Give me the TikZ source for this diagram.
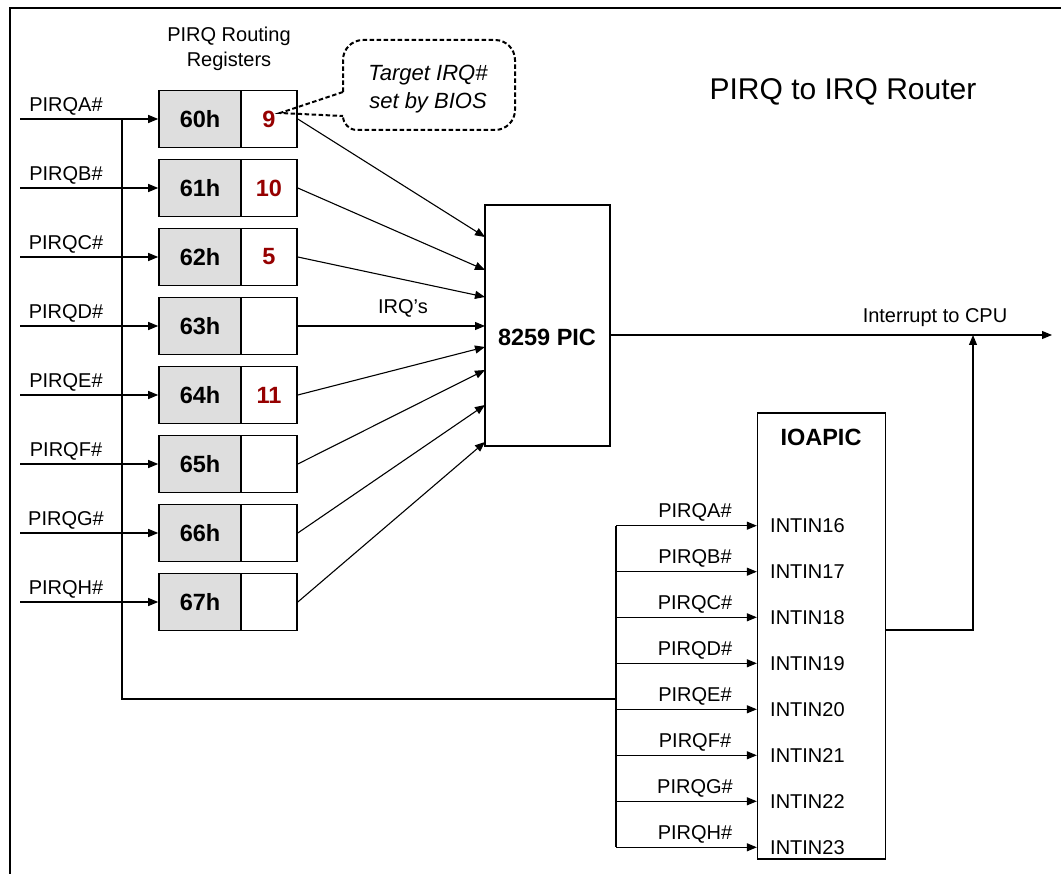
\documentclass[tikz,border=0pt]{standalone}
\usepackage{fontspec}
\setmainfont{Liberation Sans}
\usetikzlibrary{arrows.meta}
\definecolor{valred}{RGB}{150,0,0}
\definecolor{regfill}{RGB}{222,222,222}
\begin{document}
\begin{tikzpicture}[x=1pt,y=-1pt,
  lbl/.style={font=\fontsize{20}{24}\selectfont, inner sep=0},
  blbl/.style={font=\bfseries\fontsize{23.5}{28}\selectfont, inner sep=0},
  reg/.style={draw, line width=1.6pt, fill=regfill, minimum width=82pt, minimum height=57pt, inner sep=0, font=\bfseries\fontsize{23.5}{28}\selectfont},
  val/.style={draw, line width=1.6pt, fill=white, minimum width=56pt, minimum height=57pt, inner sep=0, font=\bfseries\fontsize{23.5}{28}\selectfont, text=valred},
  blk/.style={draw, line width=1.3pt, inner sep=0},
  wire/.style={line width=1.1pt},
  arr/.style={wire, -{Triangle[length=10pt,width=8pt]}},
  callout/.style={line width=2pt, dash pattern=on 4.5pt off 2.5pt},
]
\useasboundingbox (0,0) rectangle (1061,874);
% frame
\draw[line width=2pt] (10,874) -- (10,8) -- (1061,8);
% title
\node[font=\fontsize{30}{36}\selectfont, inner sep=0] (title) at (843,92) {PIRQ to IRQ Router};
% header
\node[lbl, align=center] (hdr) at (229,49) {PIRQ Routing\\[1pt]Registers};
% 8259 PIC
\node[blk, minimum width=125pt, minimum height=241pt] (pic) at (547.5,325.5) {};
\node[blbl] (piclbl) at (547,337) {8259 PIC};
% registers
\foreach \L/\h/\v/\y/\t in {A/60h/9/119/237, B/61h/10/188/270, C/62h/5/257/297, D/63h//326/326, E/64h/11/395/347, F/65h//464/370, G/66h//533/405, H/67h//602/442}{
  \node[reg] (r\L) at (200,\y) {\h};
  \node[val] (v\L) at (269,\y) {\v};
  \coordinate (in\L) at (20,\y);
  \draw[arr] (in\L) -- (r\L.west);
  \node[lbl] (l\L) at (66,\y-13) {PIRQ\L\#};
  \coordinate (p\L) at (485,\t);
  \draw[arr] (v\L.east) -- (p\L);
}
\node[lbl] (irqs) at (403,308) {IRQ's};
% callout
\coordinate (tip) at (280,113);
\draw[callout, rounded corners=20pt] (343,92) -- (343,40) -- (515,40) -- (515,130) [rounded corners=14pt] -- (343,130) -- (343,116);
\draw[callout] (343,92) -- (tip) -- (343,116);
\node[lbl, font=\itshape\fontsize{22}{26}\selectfont] (c1) at (428,75) {Target IRQ\#};
\node[lbl, font=\itshape\fontsize{22}{26}\selectfont] (c2) at (428,103) {set by BIOS};
% bus from left to IOAPIC
\coordinate (busT) at (122,119);
\coordinate (busB) at (122,699);
\coordinate (busR) at (616,699);
\draw[wire] (busT) -- (busB) -- (busR);
% output to CPU
\coordinate (cpu) at (1052,335);
\draw[arr] (pic.east |- cpu) -- (cpu);
\node[lbl] (cpulbl) at (935,318) {Interrupt to CPU};
% IOAPIC
\node[blk, minimum width=128pt, minimum height=446pt] (io) at (821.5,636) {};
\node[blbl] (iolbl) at (821,437) {IOAPIC};
\foreach \L/\n/\y in {A/16/525.7, B/17/571.7, C/18/617.3, D/19/663.3, E/20/709.3, F/21/755.3, G/22/801.3, H/23/847.3}{
  \coordinate (ib\L) at (616,\y);
  \draw[arr] (ib\L) -- (io.west |- ib\L);
  \node[lbl] (il\L) at (695,\y-13) {PIRQ\L\#};
  \node[lbl, anchor=west] (int\L) at (770,\y) {INTIN\n};
}
\draw[wire] (ibA) -- (ibH);
\coordinate (jn) at (973,630);
\draw[arr] (io.east |- jn) -- (jn) -- (jn |- cpu);
\end{tikzpicture}
\end{document}
